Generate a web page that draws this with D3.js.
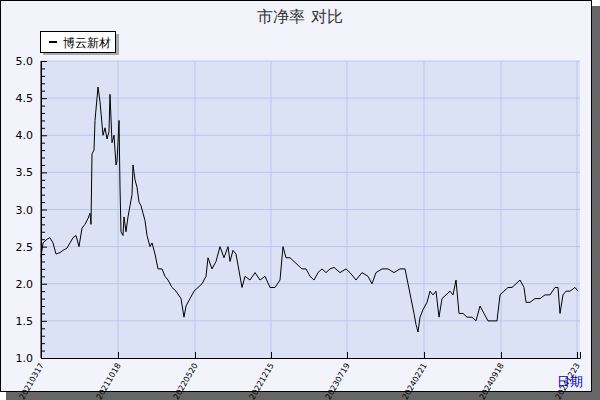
<!DOCTYPE html>
<html><head><meta charset="utf-8">
<script src="https://cdn.jsdelivr.net/npm/d3@7"></script>
<style>body{margin:0;background:#fff}text{font-family:"DejaVu Sans",sans-serif}</style>
</head><body><div id="chart"></div>
<script>
// trading-time position (0..539) and P/B value
const tPos = [0,2,6,9,12,15,19,22,26,29,32,35,38,41,44,47,49,50,51,53,54,56,57,59,60,62,64,66,68,69,71,73,75,76,77,78,79,80,82,83,85,87,89,91,92,94,96,98,100,102,104,106,109,111,114,117,121,124,127,131,135,140,143,145,149,153,157,161,165,167,171,175,179,183,187,189,192,195,197,201,204,209,214,219,224,229,234,239,242,245,249,253,257,261,265,269,273,277,281,285,289,293,299,305,309,315,321,327,331,335,341,347,353,359,364,367,370,373,375,377,379,382,386,389,392,395,398,401,405,409,412,415,418,422,426,431,435,439,443,447,452,456,459,463,467,471,475,479,483,485,489,494,499,504,509,514,517,519,522,525,529,534,537];
const pbValues = [2.36,2.55,2.6,2.62,2.55,2.4,2.42,2.45,2.48,2.55,2.62,2.65,2.5,2.75,2.8,2.88,2.95,2.8,3.75,3.8,4.2,4.5,4.65,4.45,4.3,4.0,4.1,3.95,4.05,4.55,3.9,4.0,3.6,3.65,3.9,4.2,3.3,2.7,2.65,2.9,2.7,2.9,3.05,3.2,3.6,3.4,3.3,3.1,3.05,2.95,2.85,2.65,2.5,2.55,2.4,2.2,2.2,2.1,2.05,1.95,1.9,1.8,1.55,1.7,1.8,1.9,1.95,2.0,2.1,2.35,2.2,2.3,2.5,2.35,2.5,2.3,2.45,2.4,2.25,1.95,2.1,2.05,2.15,2.05,2.1,1.95,1.95,2.05,2.5,2.35,2.35,2.3,2.25,2.2,2.2,2.1,2.05,2.15,2.2,2.15,2.2,2.22,2.15,2.2,2.15,2.05,2.15,2.1,2.0,2.15,2.2,2.2,2.15,2.2,2.2,2.0,1.8,1.6,1.45,1.35,1.55,1.65,1.75,1.9,1.85,1.9,1.55,1.8,1.85,1.9,1.85,2.05,1.6,1.6,1.55,1.55,1.5,1.7,1.6,1.5,1.5,1.5,1.85,1.9,1.95,1.95,2.0,2.05,1.95,1.75,1.75,1.8,1.8,1.85,1.85,1.95,1.95,1.6,1.85,1.9,1.9,1.95,1.9];
const tickPos = [0,77,154,230,306,383,460,536];
const tickLabels = ["20210317","20211018","20220520","20221215","20230719","20240221","20240918","20241223"];
const yTicks = [1.0,1.5,2.0,2.5,3.0,3.5,4.0,4.5,5.0];

const W = 600, H = 400;
const plot = {left: 41, right: 580, top: 61, bottom: 358};

const svg = d3.select("#chart").append("svg").attr("width", W).attr("height", H);

// frame with shadow
svg.append("rect").attr("x", 6).attr("y", 6).attr("width", 594).attr("height", 394).attr("fill", "#666");
svg.append("rect").attr("x", 0.5).attr("y", 0.5).attr("width", 591).attr("height", 391)
    .attr("fill", "#f2f3fb").attr("stroke", "#000");

const x = d3.scaleLinear().domain([0, 539]).range([plot.left, plot.right]);
const y = d3.scaleLinear().domain([1, 5]).range([plot.bottom, plot.top]);

svg.append("rect").attr("x", plot.left).attr("y", plot.top)
    .attr("width", plot.right - plot.left).attr("height", plot.bottom - plot.top).attr("fill", "#dce2f6");

// grid
svg.append("g").selectAll("line").data(yTicks.slice(1)).join("line")
    .attr("x1", plot.left).attr("x2", plot.right).attr("y1", d => y(d)).attr("y2", d => y(d))
    .attr("stroke", "#b9c6ea");
svg.append("g").selectAll("line").data(tickPos.slice(1)).join("line")
    .attr("x1", d => x(d)).attr("x2", d => x(d)).attr("y1", plot.top).attr("y2", plot.bottom)
    .attr("stroke", "#b9c6ea");

// y axis
const yAxis = svg.append("g").attr("transform", `translate(${plot.left},0)`)
    .call(d3.axisRight(y).tickValues(d3.range(1, 5.01, 0.1)).tickSize(4).tickFormat(""));
yAxis.selectAll(".tick line").attr("stroke", "#000").attr("x2", (d, i) => i % 5 === 0 ? 6 : 4);
svg.append("g").selectAll("text").data(yTicks).join("text")
    .attr("x", 33).attr("y", d => y(d) + 4).attr("text-anchor", "end")
    .attr("font-size", 11).text(d => d.toFixed(1));

// x axis
const xAxis = svg.append("g").attr("transform", `translate(0,${plot.bottom})`)
    .call(d3.axisTop(x).tickValues(tickPos).tickSize(6).tickFormat(""));
xAxis.select(".domain").attr("stroke", "#000");
xAxis.selectAll(".tick line").attr("stroke", "#000");
svg.append("g").selectAll("text").data(tickPos).join("text")
    .attr("transform", d => `translate(${x(d) + 3},${plot.bottom + 7}) rotate(-60)`)
    .attr("text-anchor", "end").attr("font-size", 8).text((d, i) => tickLabels[i]);
svg.append("line").attr("x1", plot.left).attr("x2", plot.left).attr("y1", plot.top).attr("y2", plot.bottom).attr("stroke", "#000");

// series
svg.append("path").datum(tPos.map((t, i) => [t, pbValues[i]]))
    .attr("fill", "none").attr("stroke", "#000").attr("stroke-width", 1)
    .attr("d", d3.line().x(d => x(d[0])).y(d => y(d[1])));

// title
svg.append("text").attr("x", 300).attr("y", 22).attr("text-anchor", "middle")
    .attr("font-size", 16).attr("fill", "#333").text("市净率  对比");

// legend
svg.append("rect").attr("x", 43).attr("y", 34).attr("width", 76).attr("height", 21).attr("fill", "#aaa");
svg.append("rect").attr("x", 40.5).attr("y", 31.5).attr("width", 75).attr("height", 21).attr("fill", "#fff").attr("stroke", "#000");
svg.append("line").attr("x1", 49).attr("x2", 57).attr("y1", 42).attr("y2", 42).attr("stroke", "#000").attr("stroke-width", 2);
svg.append("text").attr("x", 63).attr("y", 47).attr("font-size", 12).text("博云新材");

// x axis title
svg.append("text").attr("x", 557).attr("y", 386).attr("font-size", 13).attr("fill", "#0000cc").text("日期");
</script></body></html>
